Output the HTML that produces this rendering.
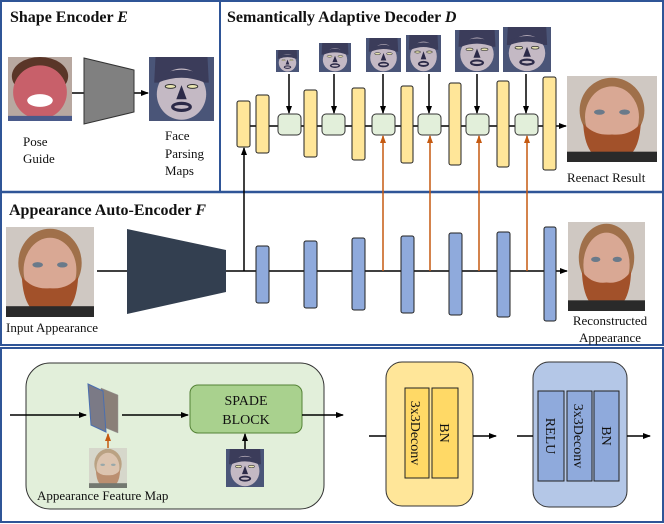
<!DOCTYPE html>
<html><head><meta charset="utf-8"><style>
html,body{margin:0;padding:0;background:#fff}
svg{display:block}
text{font-family:"Liberation Serif",serif;fill:#111}
</style></head><body>
<svg width="664" height="524" viewBox="0 0 664 524" xmlns="http://www.w3.org/2000/svg">
<defs>
<marker id="a" markerWidth="8" markerHeight="8" refX="7" refY="4" orient="auto" markerUnits="userSpaceOnUse"><path d="M0,1 L8,4 L0,7 z" fill="#000"/></marker>
<marker id="ao" markerWidth="8" markerHeight="8" refX="7" refY="4" orient="auto" markerUnits="userSpaceOnUse"><path d="M0,1 L8,4 L0,7 z" fill="#c55a11"/></marker>
<symbol id="man" viewBox="0 0 100 100" preserveAspectRatio="none">
<rect width="100" height="100" fill="#cfc8c2"/>
<ellipse cx="50" cy="40" rx="36" ry="38" fill="#a0704a"/>
<ellipse cx="50" cy="48" rx="30" ry="36" fill="#d9a894"/>
<path d="M18,55 Q20,100 50,100 Q80,100 82,55 Q70,70 50,68 Q30,70 18,55z" fill="#a2512a"/>
<rect x="0" y="88" width="100" height="12" fill="#2a2a2a"/>
<ellipse cx="36" cy="42" rx="6" ry="3" fill="#6a7a8a"/><ellipse cx="64" cy="42" rx="6" ry="3" fill="#6a7a8a"/>
</symbol>
<symbol id="map" viewBox="0 0 100 100" preserveAspectRatio="none">
<rect width="100" height="100" fill="#4a5578"/>
<path d="M10,0 L90,0 L92,40 L8,40z" fill="#3b3c5a"/>
<ellipse cx="50" cy="58" rx="38" ry="40" fill="#c4b9c4"/>
<path d="M14,40 Q50,25 86,40 L86,30 Q50,10 14,30z" fill="#3b3c5a"/>
<ellipse cx="33" cy="46" rx="8" ry="3" fill="#e8e4b0" stroke="#333" stroke-width="1.5"/>
<ellipse cx="67" cy="46" rx="8" ry="3" fill="#e8e4b0" stroke="#333" stroke-width="1.5"/>
<path d="M50,44 L42,66 L58,66z" fill="#2c2a48"/>
<ellipse cx="50" cy="78" rx="16" ry="8" fill="#2c2a48"/><ellipse cx="50" cy="78" rx="11" ry="3" fill="#c4b9c4"/>
</symbol>
<symbol id="kid" viewBox="0 0 100 100" preserveAspectRatio="none">
<rect width="100" height="100" fill="#b8a8a0"/>
<ellipse cx="50" cy="30" rx="44" ry="30" fill="#5a3628"/>
<ellipse cx="50" cy="55" rx="42" ry="42" fill="#c8606a"/>
<ellipse cx="50" cy="68" rx="20" ry="10" fill="#fff"/>
<rect x="0" y="92" width="100" height="8" fill="#4a5a8a"/>
</symbol>
</defs>

<!-- frames -->
<rect x="1" y="1" width="662" height="344" fill="none" stroke="#2f5597" stroke-width="2"/>
<line x1="0" y1="192" x2="664" y2="192" stroke="#2f5597" stroke-width="2.5"/>
<line x1="220" y1="0" x2="220" y2="192" stroke="#2f5597" stroke-width="2"/>
<rect x="1" y="348" width="662" height="174" fill="none" stroke="#2f5597" stroke-width="2"/>

<!-- Shape encoder -->
<text x="10" y="22" font-size="16" font-weight="bold">Shape Encoder <tspan font-style="italic">E</tspan></text>
<use href="#kid" x="8" y="57" width="64" height="64"/>
<line x1="72" y1="93" x2="148" y2="93" stroke="#000" stroke-width="1.5" marker-end="url(#a)"/>
<polygon points="84,58 134,70 134,112 84,124" fill="#808080" stroke="#333" stroke-width="1"/>
<use href="#map" x="149" y="57" width="65" height="64"/>
<text x="23" y="146" font-size="13">Pose</text><text x="23" y="163" font-size="13">Guide</text>
<text x="165" y="140" font-size="13">Face</text><text x="165" y="158" font-size="13">Parsing</text><text x="165" y="175" font-size="13">Maps</text>

<!-- decoder -->
<text x="227" y="22" font-size="16" font-weight="bold">Semantically Adaptive Decoder <tspan font-style="italic">D</tspan></text>
<line x1="244" y1="126" x2="566" y2="126" stroke="#000" stroke-width="1.5" marker-end="url(#a)"/>
<g fill="#ffe699" stroke="#222" stroke-width="1">
<rect x="237" y="101" width="13" height="46" rx="2"/>
<rect x="256" y="95" width="13" height="58" rx="2"/>
<rect x="304" y="90" width="13" height="67" rx="2"/>
<rect x="352" y="88" width="13" height="72" rx="2"/>
<rect x="401" y="86" width="12" height="77" rx="2"/>
<rect x="449" y="83" width="12" height="82" rx="2"/>
<rect x="497" y="81" width="12" height="86" rx="2"/>
<rect x="543" y="77" width="13" height="93" rx="2"/>
</g>
<g fill="#e2efda" stroke="#333" stroke-width="1">
<rect x="278" y="114" width="23" height="21" rx="4"/>
<rect x="322" y="114" width="23" height="21" rx="4"/>
<rect x="372" y="114" width="23" height="21" rx="4"/>
<rect x="418" y="114" width="23" height="21" rx="4"/>
<rect x="466" y="114" width="23" height="21" rx="4"/>
<rect x="515" y="114" width="23" height="21" rx="4"/>
</g>
<use href="#map" x="276" y="50" width="23" height="22"/>
<use href="#map" x="319" y="43" width="32" height="29"/>
<use href="#map" x="366" y="38" width="35" height="34"/>
<use href="#map" x="406" y="35" width="35" height="37"/>
<use href="#map" x="455" y="30" width="44" height="42"/>
<use href="#map" x="503" y="27" width="48" height="45"/>
<g stroke="#000" stroke-width="1.5" marker-end="url(#a)">
<line x1="289" y1="74" x2="289" y2="113"/>
<line x1="334" y1="74" x2="334" y2="113"/>
<line x1="383" y1="74" x2="383" y2="113"/>
<line x1="429" y1="74" x2="429" y2="113"/>
<line x1="477" y1="74" x2="477" y2="113"/>
<line x1="526" y1="74" x2="526" y2="113"/>
</g>
<use href="#man" x="567" y="76" width="90" height="86"/>
<text x="567" y="182" font-size="13">Reenact Result</text>

<!-- appearance auto-encoder -->
<text x="9" y="215" font-size="16" font-weight="bold">Appearance Auto-Encoder <tspan font-style="italic">F</tspan></text>
<use href="#man" x="6" y="227" width="88" height="90"/>
<text x="6" y="332" font-size="13">Input Appearance</text>
<line x1="97" y1="271" x2="567" y2="271" stroke="#000" stroke-width="1.5" marker-end="url(#a)"/>
<polygon points="127,229 226,250 226,292 127,314" fill="#333f50"/>
<line x1="244" y1="271" x2="244" y2="148" stroke="#000" stroke-width="1.5" marker-end="url(#a)"/>
<g stroke="#c55a11" stroke-width="1.5" marker-end="url(#ao)">
<line x1="383" y1="271" x2="383" y2="136"/>
<line x1="430" y1="271" x2="430" y2="136"/>
<line x1="479" y1="271" x2="479" y2="136"/>
<line x1="527" y1="271" x2="527" y2="136"/>
</g>
<g fill="#8faadc" stroke="#222" stroke-width="1">
<rect x="256" y="246" width="13" height="57" rx="2"/>
<rect x="304" y="241" width="13" height="67" rx="2"/>
<rect x="352" y="238" width="13" height="72" rx="2"/>
<rect x="401" y="236" width="13" height="77" rx="2"/>
<rect x="449" y="233" width="13" height="82" rx="2"/>
<rect x="497" y="232" width="13" height="85" rx="2"/>
<rect x="544" y="227" width="12" height="94" rx="2"/>
</g>
<use href="#man" x="568" y="222" width="77" height="89"/>
<text x="610" y="325" font-size="13" text-anchor="middle">Reconstructed</text>
<text x="610" y="342" font-size="13" text-anchor="middle">Appearance</text>

<!-- bottom -->
<rect x="26" y="363" width="298" height="146" rx="24" fill="#e2efda" stroke="#333" stroke-width="1"/>
<line x1="10" y1="415" x2="86" y2="415" stroke="#000" stroke-width="1.5" marker-end="url(#a)"/>
<polygon points="101,388 118,395 118,433 101,426" fill="#8a7f78" stroke="#999" stroke-width="0.5"/>
<polygon points="88,384 103,391 106,432 91,425" fill="#7b7a86" stroke="#4a6fb0" stroke-width="1"/>
<line x1="122" y1="415" x2="188" y2="415" stroke="#000" stroke-width="1.5" marker-end="url(#a)"/>
<rect x="190" y="385" width="112" height="48" rx="8" fill="#a9d18e" stroke="#548235" stroke-width="1"/>
<text x="246" y="405" font-size="14" text-anchor="middle">SPADE</text>
<text x="246" y="424" font-size="14" text-anchor="middle">BLOCK</text>
<line x1="302" y1="415" x2="343" y2="415" stroke="#000" stroke-width="1.5" marker-end="url(#a)"/>
<use href="#man" x="89" y="448" width="38" height="40" opacity="0.6"/>
<line x1="108" y1="448" x2="108" y2="434" stroke="#c55a11" stroke-width="1.5" marker-end="url(#ao)"/>
<use href="#map" x="226" y="449" width="38" height="38"/>
<line x1="245" y1="449" x2="245" y2="434" stroke="#000" stroke-width="1.5" marker-end="url(#a)"/>
<text x="37" y="500" font-size="13">Appearance Feature Map</text>

<rect x="386" y="362" width="87" height="144" rx="16" fill="#ffe699" stroke="#333" stroke-width="1"/>
<rect x="405" y="388" width="24" height="90" fill="#ffd966" stroke="#222" stroke-width="1"/>
<rect x="432" y="388" width="26" height="90" fill="#ffd966" stroke="#222" stroke-width="1"/>
<text transform="translate(411,433) rotate(90)" font-size="14" text-anchor="middle">3x3Deconv</text>
<text transform="translate(440,433) rotate(90)" font-size="14" text-anchor="middle">BN</text>
<line x1="369" y1="436" x2="386" y2="436" stroke="#000" stroke-width="1.5"/>
<line x1="473" y1="436" x2="496" y2="436" stroke="#000" stroke-width="1.5" marker-end="url(#a)"/>

<rect x="533" y="362" width="94" height="145" rx="16" fill="#b4c7e7" stroke="#333" stroke-width="1"/>
<rect x="538" y="391" width="26" height="90" fill="#8faadc" stroke="#222" stroke-width="1"/>
<rect x="567" y="391" width="25" height="90" fill="#8faadc" stroke="#222" stroke-width="1"/>
<rect x="594" y="391" width="25" height="90" fill="#8faadc" stroke="#222" stroke-width="1"/>
<text transform="translate(546,436) rotate(90)" font-size="14" text-anchor="middle">RELU</text>
<text transform="translate(574,436) rotate(90)" font-size="14" text-anchor="middle">3x3Deconv</text>
<text transform="translate(602,436) rotate(90)" font-size="14" text-anchor="middle">BN</text>
<line x1="517" y1="436" x2="533" y2="436" stroke="#000" stroke-width="1.5"/>
<line x1="627" y1="436" x2="650" y2="436" stroke="#000" stroke-width="1.5" marker-end="url(#a)"/>
</svg>
</body></html>
